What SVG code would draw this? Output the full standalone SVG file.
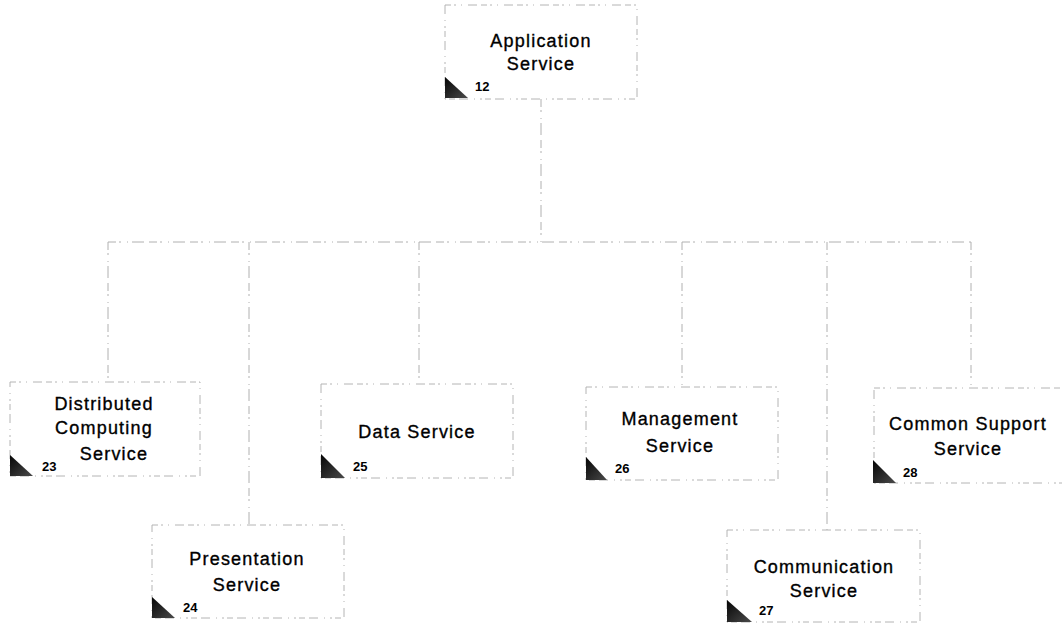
<svg xmlns="http://www.w3.org/2000/svg" width="1062" height="627" viewBox="0 0 1062 627">
  <defs>
    <style>
      .box { fill: none; stroke: #b4b4b4; stroke-width: 1; stroke-dasharray: 6 3 2 5 1 6 9 4; }
      .link { fill: none; stroke: #b0b0b0; stroke-width: 1; stroke-dasharray: 8 3 2 6 1 4 12 5; }
      .label { font-family: "Liberation Sans", Arial, sans-serif; font-size: 18px; letter-spacing: 1.2px; fill: #000; stroke: #000; stroke-width: 0.35; text-anchor: middle; }
      .num { font-family: "Liberation Sans", Arial, sans-serif; font-size: 13px; font-weight: bold; fill: #000; }
      .tab { fill: url(#tabShade); }
    </style>
    <linearGradient id="tabShade" x1="0" y1="0" x2="1" y2="1">
      <stop offset="0" stop-color="#050505"/>
      <stop offset="1" stop-color="#4a4a4a"/>
    </linearGradient>
  </defs>

  <rect width="1062" height="627" fill="#fff"/>

  <!-- tree connectors -->
  <g id="connectors">
    <path class="link" d="M541 99 V242"/>
    <path class="link" d="M108 242 H971"/>
    <path class="link" d="M108 242 V382"/>
    <path class="link" d="M249 242 V525"/>
    <path class="link" d="M419 242 V384"/>
    <path class="link" d="M682 242 V387"/>
    <path class="link" d="M827 242 V530"/>
    <path class="link" d="M971 242 V388"/>
  </g>

  <g id="node-12">
    <rect class="box" x="445" y="5" width="192" height="94"/>
    <polygon class="tab" points="445,77 445,98 468,98"/>
    <text class="label" x="541" y="47">Application</text>
    <text class="label" x="541" y="70">Service</text>
    <text class="num" x="475" y="91">12</text>
  </g>

  <g id="node-23">
    <rect class="box" x="10" y="382" width="190" height="94"/>
    <polygon class="tab" points="10,455 10,476 33,476"/>
    <text class="label" x="104" y="410">Distributed</text>
    <text class="label" x="104" y="434">Computing</text>
    <text class="label" x="114" y="460">Service</text>
    <text class="num" x="42" y="471">23</text>
  </g>

  <g id="node-24">
    <rect class="box" x="152" y="525" width="192" height="93"/>
    <polygon class="tab" points="152,597 152,618 175,618"/>
    <text class="label" x="247" y="565">Presentation</text>
    <text class="label" x="247" y="591">Service</text>
    <text class="num" x="183" y="612">24</text>
  </g>

  <g id="node-25">
    <rect class="box" x="321" y="384" width="192" height="94"/>
    <polygon class="tab" points="321,454 321,478 345,478"/>
    <text class="label" x="417" y="438">Data Service</text>
    <text class="num" x="353" y="471">25</text>
  </g>

  <g id="node-26">
    <rect class="box" x="586" y="387" width="192" height="93"/>
    <polygon class="tab" points="586,457 586,480 607,480"/>
    <text class="label" x="680" y="425">Management</text>
    <text class="label" x="680" y="452">Service</text>
    <text class="num" x="615" y="473">26</text>
  </g>

  <g id="node-27">
    <rect class="box" x="727" y="530" width="193" height="92"/>
    <polygon class="tab" points="727,600 727,622 752,622"/>
    <text class="label" x="824" y="573">Communication</text>
    <text class="label" x="824" y="597">Service</text>
    <text class="num" x="759" y="615">27</text>
  </g>

  <g id="node-28">
    <rect class="box" x="874" y="388" width="192" height="95"/>
    <polygon class="tab" points="873,460 873,483 896,483"/>
    <text class="label" x="968" y="430">Common Support</text>
    <text class="label" x="968" y="455">Service</text>
    <text class="num" x="903" y="477">28</text>
  </g>
</svg>
